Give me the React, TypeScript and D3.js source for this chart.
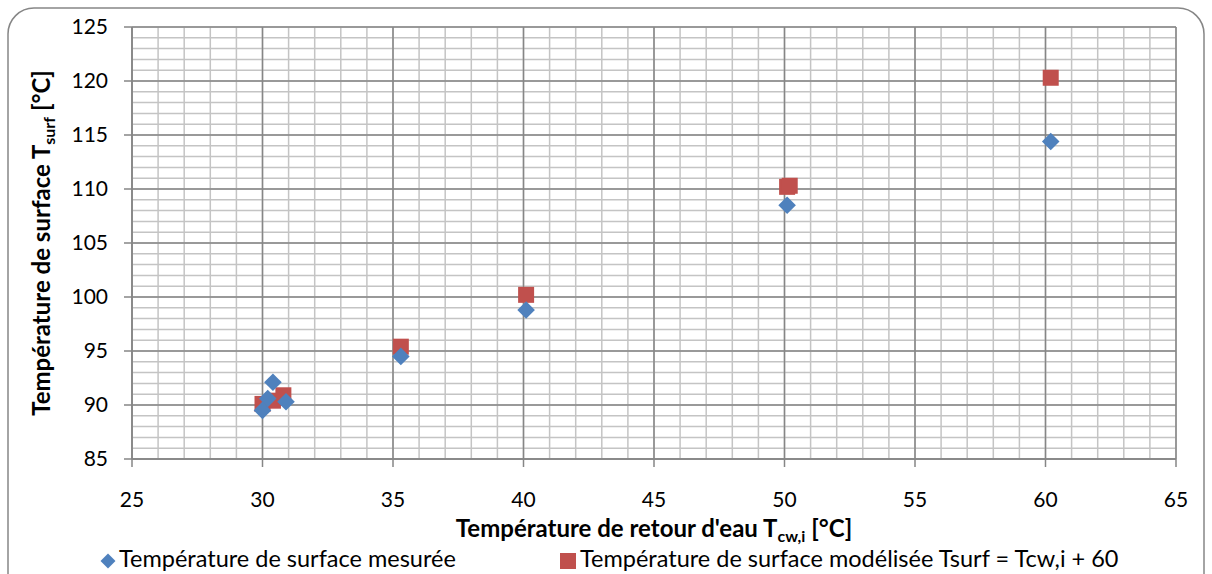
import React from 'react'
import * as d3 from 'd3'

// measured surface temperature vs return water temperature
const measuredX = [30.0, 30.2, 30.4, 30.9, 35.3, 40.1, 50.1, 60.2]
const measuredY = [89.5, 90.6, 92.1, 90.3, 94.5, 98.8, 108.5, 114.4]
// modelled Tsurf = Tcw,i + 60
const modelX = [30.0, 30.4, 30.8, 35.3, 40.1, 50.1, 50.2, 60.2]
const modelY = [90.1, 90.4, 90.9, 95.4, 100.2, 110.2, 110.3, 120.3]

const xTicks = [25, 30, 35, 40, 45, 50, 55, 60, 65]
const yTicks = [85, 90, 95, 100, 105, 110, 115, 120, 125]

const W = 1212
const H = 574
const margin = { top: 27, right: 36, bottom: 115, left: 132 }
const FONT = 'Lato, Carlito, Calibri, sans-serif'

const App: React.FC = () => {
  const iw = W - margin.left - margin.right
  const ih = H - margin.top - margin.bottom

  const x = d3.scaleLinear().domain([25, 65]).range([0, iw])
  const y = d3.scaleLinear().domain([85, 125]).range([ih, 0])

  const minorX = d3.range(25, 66, 1)
  const minorY = d3.range(85, 126, 1)

  const diamond = d3.symbol().type(d3.symbolSquare).size(155)

  return (
    <svg
      width={W}
      height={H}
      style={{ position: 'absolute', left: 0, top: 0, fontFamily: FONT }}
    >
      <rect x={0} y={0} width={W} height={H} fill="#fff" />
      <rect
        x={8}
        y={8}
        width={1196}
        height={600}
        rx={26}
        ry={26}
        fill="#fff"
        stroke="#868686"
        strokeWidth={1.5}
      />
      <g transform={`translate(${margin.left},${margin.top})`}>
        {/* minor grid */}
        {minorX.map((v) => (
          <line key={'mx' + v} x1={x(v)} x2={x(v)} y1={0} y2={ih} stroke="#c4c4c4" strokeWidth={1.5} />
        ))}
        {minorY.map((v) => (
          <line key={'my' + v} x1={0} x2={iw} y1={y(v)} y2={y(v)} stroke="#c4c4c4" strokeWidth={1.5} />
        ))}
        {/* major grid */}
        {xTicks.map((v) => (
          <line key={'gx' + v} x1={x(v)} x2={x(v)} y1={0} y2={ih} stroke="#868686" strokeWidth={1.5} />
        ))}
        {yTicks.map((v) => (
          <line key={'gy' + v} x1={0} x2={iw} y1={y(v)} y2={y(v)} stroke="#868686" strokeWidth={1.5} />
        ))}
        {/* axes */}
        <line x1={0} x2={0} y1={0} y2={ih} stroke="#868686" strokeWidth={1.5} />
        <line x1={0} x2={iw} y1={ih} y2={ih} stroke="#868686" strokeWidth={1.5} />
        {xTicks.map((v) => (
          <g key={'tx' + v}>
            <line x1={x(v)} x2={x(v)} y1={ih} y2={ih + 8} stroke="#868686" strokeWidth={1.5} />
            <text x={x(v)} y={ih + 48} textAnchor="middle" fontSize={21} fill="#000">
              {v}
            </text>
          </g>
        ))}
        {yTicks.map((v) => (
          <g key={'ty' + v}>
            <line x1={-8} x2={0} y1={y(v)} y2={y(v)} stroke="#868686" strokeWidth={1.5} />
            <text x={-24} y={y(v)} dy="0.35em" textAnchor="end" fontSize={21} fill="#000">
              {v}
            </text>
          </g>
        ))}
        {/* model squares */}
        {modelX.map((v, i) => (
          <rect
            key={'m' + i}
            x={x(v) - 8}
            y={y(modelY[i]) - 8}
            width={16}
            height={16}
            fill="#c0504d"
          />
        ))}
        {/* measured diamonds */}
        {measuredX.map((v, i) => (
          <path
            key={'d' + i}
            d={diamond() as string}
            transform={`translate(${x(v)},${y(measuredY[i])}) rotate(45)`}
            fill="#4f81bd"
          />
        ))}
      </g>
      {/* axis titles */}
      <text
        x={margin.left + iw / 2}
        y={537}
        textAnchor="middle"
        fontSize={24}
        fontWeight="bold"
        fill="#000"
      >
        Température de retour d'eau T
        <tspan fontSize={16} dy={5}>cw,i</tspan>
        <tspan dy={-5}> [°C]</tspan>
      </text>
      <text
        transform={`translate(50,${margin.top + ih / 2}) rotate(-90)`}
        textAnchor="middle"
        fontSize={24}
        fontWeight="bold"
        fill="#000"
      >
        Température de surface T
        <tspan fontSize={16} dy={5}>surf</tspan>
        <tspan dy={-5}> [°C]</tspan>
      </text>
      {/* legend */}
      <path
        d={diamond() as string}
        transform={`translate(108,561) rotate(45) scale(0.85)`}
        fill="#4f81bd"
      />
      <text x={119} y={567} fontSize={23.5} fill="#000">
        Température de surface mesurée
      </text>
      <rect x={560} y={553} width={16} height={16} fill="#c0504d" />
      <text x={580} y={567} fontSize={23.5} fill="#000">
        Température de surface modélisée Tsurf = Tcw,i + 60
      </text>
    </svg>
  )
}

export default App
